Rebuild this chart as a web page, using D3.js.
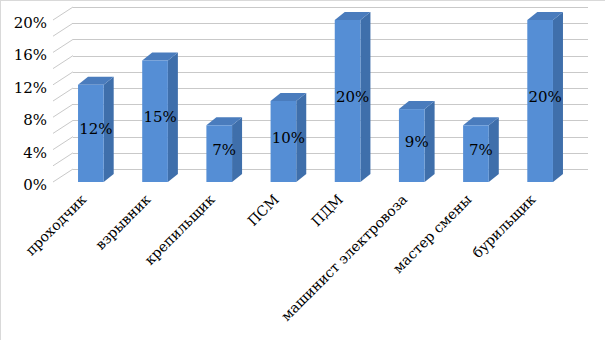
<!DOCTYPE html>
<html>
<head>
<meta charset="utf-8">
<script src="https://cdn.jsdelivr.net/npm/d3@7"></script>
<style>
  body { margin: 0; background: #fff; }
  text { font-family: "DejaVu Serif", serif; font-size: 15px; fill: #000; }
  text.xtick { font-size: 14px; }
</style>
</head>
<body>
<svg></svg>
<script>
const categories = ["проходчик", "взрывник", "крепильщик", "ПСМ", "ПДМ", "машинист электровоза", "мастер смены", "бурильщик"]
const values = [0.12, 0.15, 0.07, 0.10, 0.20, 0.09, 0.07, 0.20]
const gridTicks = [0, 0.02, 0.04, 0.06, 0.08, 0.10, 0.12, 0.14, 0.16, 0.18, 0.20]
const labelTicks = [0, 0.04, 0.08, 0.12, 0.16, 0.20]

const width = 605
const height = 340

const svg = d3.select('svg')
  .attr('width', width)
  .attr('height', height)

// chart border (right/bottom fall outside the picture)
svg.append("rect")
  .attr("x", 0.5).attr("y", 0.5)
  .attr("width", 640).attr("height", 380)
  .attr("fill", "#fff")
  .attr("stroke", "#d9d9d9")

// 3D offsets: wall depth and bar depth
const wallDx = 20, wallDy = -13
const barDx = 10, barDy = -8

const x = d3.scaleBand()
  .domain(categories)
  .range([53, 578])
  .paddingInner(0.6)
  .paddingOuter(0.39)

const y = d3.scaleLinear()
  .domain([0, 0.2])
  .range([182, 20])

const frontX = 53
const backRight = 588

var grid = svg.append("g").attr("class", "grid")
  .attr("stroke", "#c9c9c9")
  .attr("fill", "none")

// side wall diagonals
grid.selectAll("line.side")
  .data(gridTicks)
  .enter().append("line")
    .attr("class", "side")
    .attr("x1", frontX)
    .attr("y1", d => y(d))
    .attr("x2", frontX + wallDx)
    .attr("y2", d => y(d) + wallDy)

// back wall horizontals
grid.selectAll("line.back")
  .data(gridTicks)
  .enter().append("line")
    .attr("class", "back")
    .attr("x1", frontX + wallDx)
    .attr("y1", d => Math.round(y(d) + wallDy) + 0.5)
    .attr("x2", backRight)
    .attr("y2", d => Math.round(y(d) + wallDy) + 0.5)

// value axis labels
svg.selectAll("text.ytick")
  .data(labelTicks)
  .enter().append("text")
    .attr("class", "ytick")
    .attr("x", 47)
    .attr("y", d => y(d) + 4)
    .attr("text-anchor", "end")
    .attr("dominant-baseline", "middle")
    .text(d => d3.format(".0%")(d))

var bars = svg.append("g").attr("class", "bars")
  .selectAll("g")
  .data(values)
  .enter().append("g")

const bw = x.bandwidth()
const y0 = y(0)

// side face
bars.append("path")
  .attr("fill", "#3f6fab")
  .attr("d", (d, i) => {
    const x1 = x(categories[i]) + bw, yt = y(d)
    return `M${x1},${yt} L${x1 + barDx},${yt + barDy} L${x1 + barDx},${y0 + barDy} L${x1},${y0} Z`
  })

// top face
bars.append("path")
  .attr("fill", "#4a7cbd")
  .attr("d", (d, i) => {
    const x0 = x(categories[i]), yt = y(d)
    return `M${x0},${yt} L${x0 + barDx},${yt + barDy} L${x0 + bw + barDx},${yt + barDy} L${x0 + bw},${yt} Z`
  })

// front face
bars.append("rect")
  .attr("fill", "#558ed5")
  .attr("x", (d, i) => x(categories[i]))
  .attr("y", d => y(d))
  .attr("width", bw)
  .attr("height", d => y0 - y(d))

// value labels
bars.append("text")
  .attr("x", (d, i) => x(categories[i]) + (bw + barDx) / 2)
  .attr("y", d => (y(d) + barDy + y0) / 2 + 1)
  .attr("text-anchor", "middle")
  .attr("dominant-baseline", "middle")
  .text(d => d3.format(".0%")(d))

// category labels, rotated
svg.selectAll("text.xtick")
  .data(categories)
  .enter().append("text")
    .attr("class", "xtick")
    .attr("text-anchor", "end")
    .attr("transform", d => "translate(" + (x(d) + bw / 2 - 11) + ",193) rotate(-45)")
    .attr("dy", "0.75em")
    .text(d => d)
</script>
</body>
</html>
